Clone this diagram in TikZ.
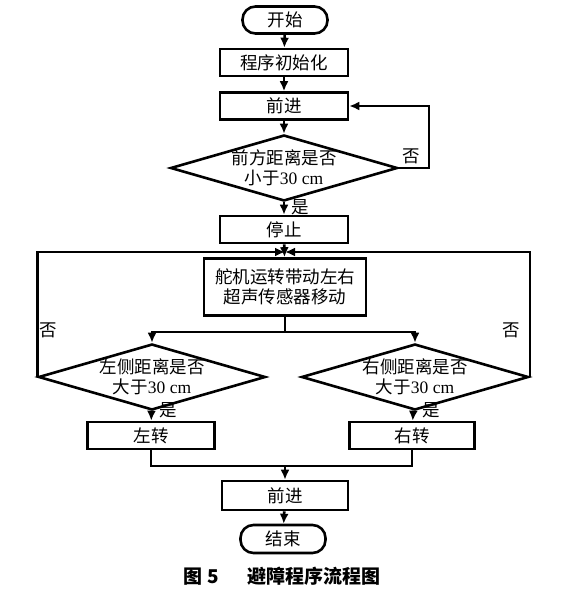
\documentclass[tikz,border=0pt]{standalone}
\usepackage{fontspec}
\setmainfont{Liberation Serif}
\newfontfamily\cjk{Noto Sans CJK SC}
\usetikzlibrary{shapes,arrows.meta,positioning,calc}

\tikzset{
  box/.style={draw,line width=2.6pt,minimum width=128pt,minimum height=27pt,
    inner sep=0pt,font=\cjk\fontsize{17.5}{20}\selectfont},
  term/.style={box,rounded corners=13pt,minimum width=85pt},
  dec/.style={draw,diamond,line width=2.6pt,shape aspect=3.4,inner sep=-4pt,
    minimum width=227pt,minimum height=66pt,
    align=center,font=\cjk\fontsize{17.5}{20}\selectfont},
  tag/.style={inner sep=0pt,font=\cjk\fontsize{17.5}{20}\selectfont},
  flow/.style={line width=2.6pt}
}

\begin{document}
\begin{tikzpicture}[x=1pt,y=-1pt]
\tikzset{>={Latex[length=10pt,width=9pt]}}
\useasboundingbox (0,0) rectangle (563,591);

% main column
\node[term] (start) at (285,20) {开始};
\node[box] (init) at (284,62.5) {程序初始化};
\node[box] (fwd) at (284,106) {前进};
\node[dec] (far) at (284,168) {前方距离是否\\小于{\rmfamily 30 cm}};
\node[box] (stop) at (284,229.5) {停止};
\node[box,minimum width=162pt,minimum height=57pt,align=center]
  (servo) at (285,287) {舵机运转带动左右\\超声传感器移动};

% the two sides
\node[dec] (dl) at (152,377) {左侧距离是否\\大于{\rmfamily 30 cm}};
\node[dec] (dr) at (415,377) {右侧距离是否\\大于{\rmfamily 30 cm}};
\node[box,minimum width=127pt] (left) at (151,435.5) {左转};
\node[box,minimum width=125pt] (right) at (412,435.5) {右转};

\node[box,minimum width=126pt,minimum height=29pt] (fwd2) at (285,495.5) {前进};
\node[term,minimum height=28pt] (end) at (283,539) {结束};

\coordinate (j) at (285,252);
\coordinate (sp) at (285,332);
\coordinate (mg) at (285,466);

% connectors
\draw[flow,->] (start) -- (init);
\draw[flow,->] (init) -- (fwd);
\draw[flow,->] (fwd) -- (far);
\draw[flow,->] (far) -- (stop);
\draw[flow,->] (far.east) -- ++(30,0) |- (fwd.east);
\draw[flow,->] (stop) -- (servo);
\draw[flow,->] (dl.west) |- (j);
\draw[flow,->] (dr.east) |- (j);
\draw[flow] (servo.south) -- (sp);
\draw[flow,->] (sp) -| (dl.north);
\draw[flow,->] (sp) -| (dr.north);
\draw[flow,->] (dl) -- (left);
\draw[flow,->] (dr) -- (right);
\draw[flow] (left.south) |- (mg);
\draw[flow] (right.south) |- (mg);
\draw[flow,->] (mg) -- (fwd2);
\draw[flow,->] (fwd2) -- (end);

% labels
\node[tag] (n1) at (411,156) {否};
\node[tag] (y1) at (300,207) {是};
\node[tag] (n2) at (48,330) {否};
\node[tag] (n3) at (511,330) {否};
\node[tag] (y2) at (168,410) {是};
\node[tag] (y3) at (431,410) {是};

\node[inner sep=0pt,font=\cjk\bfseries\fontsize{19}{22}\selectfont] (cap) at (282,576)
  {图 5\hspace{1.5em}避障程序流程图};
\end{tikzpicture}
\end{document}
